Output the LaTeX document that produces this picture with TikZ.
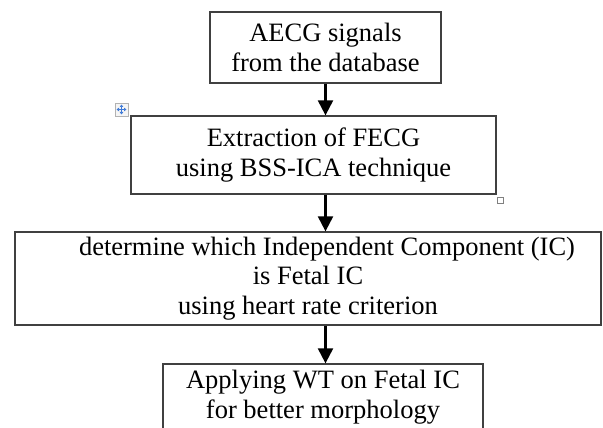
\documentclass[tikz,border=0pt]{standalone}
\usepackage{fontspec}
\setmainfont{Liberation Serif}
\usetikzlibrary{arrows.meta}
\definecolor{boxline}{RGB}{64,64,64}
\definecolor{handleblue}{RGB}{60,120,215}
\begin{document}
\begin{tikzpicture}[x=1pt,y=-1pt,
		flowbox/.style={draw=boxline,line width=1.3pt,align=center,inner sep=0pt,
			font=\fontsize{26.5}{29.5}\selectfont},
		flowarrow/.style={line width=2.2pt,-{Triangle[width=15pt,length=15pt]}}]
		\useasboundingbox (0,0) rectangle (603,428);
		\node[flowbox,minimum width=231pt,minimum height=71pt] (aecg) at (325.5,47.5) {AECG signals\\from the database};
		\node[flowbox,minimum width=365pt,minimum height=78pt] (fecg) at (313.5,155) {Extraction of FECG\\using BSS-ICA technique};
		\node[flowbox,minimum width=586pt,minimum height=93pt] (fetalic) at (308,278.5) {\hspace*{38pt}determine which Independent Component (IC)\\is Fetal IC\\using heart rate criterion};
		\node[flowbox,minimum width=320pt,minimum height=66pt] (wt) at (323,397) {Applying WT on Fetal IC\\for better morphology};
		
		\draw[flowarrow] (aecg.south) -- (aecg.south |- fecg.north);
		\draw[flowarrow] (fecg.south -| aecg.south) -- (fetalic.north -| aecg.south);
		\draw[flowarrow] (fetalic.south -| aecg.south) -- (wt.north -| aecg.south);
		
		% word handles
		\draw[gray!60,fill=gray!8,line width=0.6pt] (115,103) rectangle (128,116);
		\draw[handleblue,line width=0.9pt,{Triangle[width=3.5pt,length=2.5pt]}-{Triangle[width=3.5pt,length=2.5pt]}] (116.5,109.5) -- (126.5,109.5);
		\draw[handleblue,line width=0.9pt,{Triangle[width=3.5pt,length=2.5pt]}-{Triangle[width=3.5pt,length=2.5pt]}] (121.5,104.5) -- (121.5,114.5);
		\draw[gray,fill=white,line width=0.6pt] (497,197) rectangle (503,203);
	\end{tikzpicture}
\end{document}
